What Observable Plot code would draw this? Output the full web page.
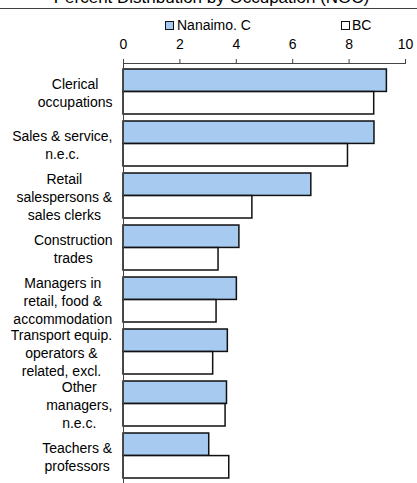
<!DOCTYPE html>
<html>
<head>
<meta charset="utf-8">
<script src="https://cdn.jsdelivr.net/npm/d3@7"></script>
<script src="https://cdn.jsdelivr.net/npm/@observablehq/plot@0.6"></script>
<style>
  body { margin: 0; background: #fff; font-family: "Liberation Sans", Arial, sans-serif; color: #000; }
  #wrap { position: relative; width: 417px; height: 483px; overflow: hidden; background: #fff; }
  #title { position: absolute; left: 3px; width: 417px; top: -11px; text-align: center; font-size: 17px; line-height: 17px; white-space: nowrap; }
  #rule { position: absolute; left: 0; top: 8px; width: 417px; height: 1px; background: #404040; }
  .lg { position: absolute; top: 18px; font-size: 14px; line-height: 14px; white-space: nowrap; }
  .sw { position: absolute; top: 21px; width: 9px; height: 9px; box-sizing: border-box; border: 1px solid #111; }
  #chart { position: absolute; left: 0; top: 30px; }
</style>
</head>
<body>
<div id="wrap">
  <div id="title">Percent Distribution by Occupation (NOC)</div>
  <div id="rule"></div>
  <div class="sw" id="sw0" style="left:165px;"></div>
  <div class="lg" id="lg0" style="left:177px;"></div>
  <div class="sw" id="sw1" style="left:341px;"></div>
  <div class="lg" id="lg1" style="left:352px;"></div>
  <div id="chart"></div>
</div>
<script>
const categories = [
  "Clerical occupations",
  "Sales & service, n.e.c.",
  "Retail salespersons & sales clerks",
  "Construction trades",
  "Managers in retail, food & accommodation",
  "Transport equip. operators & related, excl.",
  "Other managers, n.e.c.",
  "Teachers & professors"
];
const categoryLabels = [
  "Clerical\noccupations",
  "Sales & service,\nn.e.c.",
  "Retail\nsalespersons &\nsales clerks",
  "Construction\ntrades",
  "Managers in\nretail, food &\naccommodation",
  "Transport equip.\noperators &\nrelated, excl.",
  "Other\nmanagers,\nn.e.c.",
  "Teachers &\nprofessors"
];
const seriesNames = ["Nanaimo, C", "BC"];
const nanaimo = [9.34, 8.90, 6.66, 4.11, 4.02, 3.70, 3.67, 3.04];
const bc = [8.89, 7.96, 4.57, 3.37, 3.30, 3.18, 3.62, 3.75];
const xTicks = [0, 2, 4, 6, 8, 10];

const colors = ["#a6caf0", "#ffffff"];
document.getElementById("lg0").textContent = seriesNames[0];
document.getElementById("lg1").textContent = seriesNames[1];
document.getElementById("sw0").style.background = colors[0];
document.getElementById("sw1").style.background = colors[1];

const W = 417, H = 453, mt = 33, mb = 0, ml = 123, mr = 12;
const pi = 0.14, po = 0.07;
const step = (H - mt - mb) / (categories.length - pi + 2 * po);
const half = step * (1 - pi) / 2;

const nanData = categories.map((c, i) => ({category: c, value: nanaimo[i]}));
const bcData = categories.map((c, i) => ({category: c, value: bc[i]}));

const chart = Plot.plot({
  width: W, height: H,
  marginTop: mt, marginBottom: mb, marginLeft: ml, marginRight: mr,
  style: {fontFamily: "Liberation Sans, Arial, sans-serif", fontSize: "14px", color: "#000", background: "#fff"},
  x: {domain: [0, 10]},
  y: {domain: categories, paddingInner: pi, paddingOuter: po},
  marks: [
    Plot.barX(nanData, {x: "value", y: "category", fill: colors[0], stroke: "#111", strokeWidth: 1.5, insetBottom: half}),
    Plot.barX(bcData, {x: "value", y: "category", fill: colors[1], stroke: "#111", strokeWidth: 1.5, insetTop: half}),
    Plot.ruleX([0], {stroke: "#444", strokeWidth: 1}),
    Plot.frame({anchor: "top", stroke: "#444", strokeWidth: 1}),
    Plot.axisX({anchor: "top", ticks: xTicks, tickSize: 5, tickPadding: 10, fontSize: 14, stroke: "#444", label: null}),
    Plot.axisY({tickSize: 0, tickPadding: 11, fontSize: 14, lineHeight: 1.3, lineWidth: 100, label: null,
      tickFormat: d => categoryLabels[categories.indexOf(d)]})
  ]
});
document.getElementById("chart").appendChild(chart);

// center each wrapped label's lines within its right-aligned block
chart.querySelectorAll('g[aria-label="y-axis tick label"] text').forEach(t => {
  const w = t.getBBox().width;
  t.setAttribute("text-anchor", "middle");
  const spans = t.querySelectorAll("tspan");
  if (spans.length) spans.forEach(s => s.setAttribute("x", -w / 2));
  else t.setAttribute("x", -w / 2);
});
</script>
</body>
</html>
